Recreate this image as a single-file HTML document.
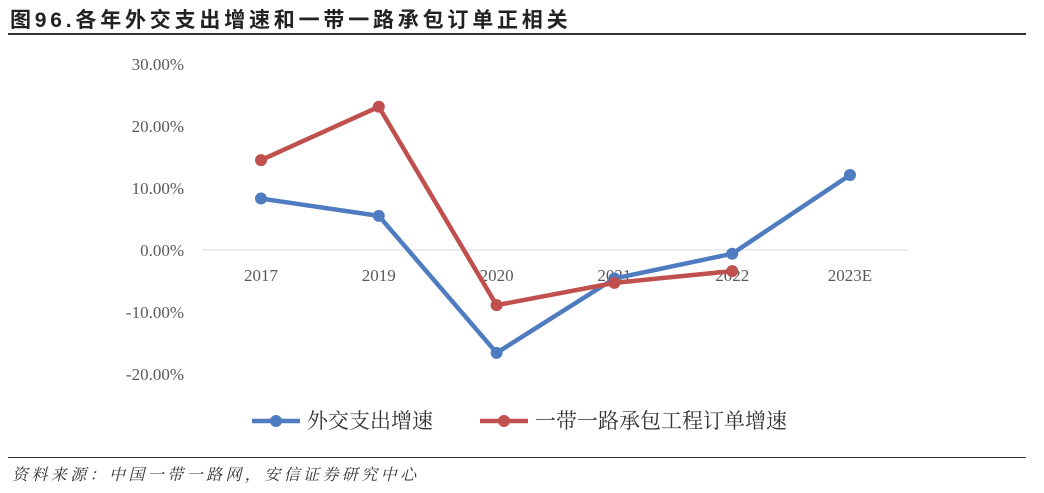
<!DOCTYPE html>
<html><head><meta charset="utf-8"><style>
body{margin:0;background:#fff;width:1044px;height:493px;overflow:hidden;font-family:"Liberation Serif","Noto Serif CJK SC",serif}
#title{position:absolute;left:10px;top:4px;font:bold 21px "Liberation Sans","Noto Sans CJK SC",sans-serif;letter-spacing:3.8px;color:#222}
#src{position:absolute;left:12px;top:462px;font:italic 16px "Liberation Serif","Noto Serif CJK SC",serif;letter-spacing:3.4px;color:#333}
.rule{position:absolute;left:8px;width:1018px;height:2px;background:#333}
svg{position:absolute;left:0;top:0}
</style></head><body>
<div id="title">图96.各年外交支出增速和一带一路承包订单正相关</div>
<div class="rule" style="top:33px"></div>
<div class="rule" style="top:457px;height:1px"></div>
<div id="src">资料来源：中国一带一路网，安信证券研究中心</div>
<svg id="c" width="1044" height="493"></svg>
<script>
const categories=["2017","2019","2020","2021","2022","2023E"];
const diplomacy=[8.3,5.5,-16.6,-4.6,-0.6,12.1];
const beltRoad=[14.5,23.1,-8.9,-5.3,-3.4];
const yTicks=[30,20,10,0,-10,-20];
const seriesNames=["外交支出增速","一带一路承包工程订单增速"];
const colors=["#4F7CC0","#C0504D"];
const NS="http://www.w3.org/2000/svg";
const svg=document.getElementById('c');
const x=i=>261+i*117.8;
const y=v=>250-v*6.2;
function mk(t,a){const e=document.createElementNS(NS,t);for(const k in a)e.setAttribute(k,a[k]);svg.appendChild(e);return e;}
let ax=mk('line',{x1:202,x2:908,y1:y(0),y2:y(0),stroke:'#d9d9d9','stroke-width':1});


yTicks.forEach(v=>{const t=mk('text',{x:184,y:y(v)+6,'text-anchor':'end','font-size':17,fill:'#595959'});t.textContent=v.toFixed(2)+'%';

});
categories.forEach((c,i)=>{const t=mk('text',{x:x(i),y:281,'text-anchor':'middle','font-size':17,fill:'#595959'});t.textContent=c;

});
[diplomacy,beltRoad].forEach((s,k)=>{
const p=mk('polyline',{points:s.map((v,i)=>x(i)+','+y(v)).join(' '),fill:'none',stroke:colors[k],'stroke-width':4.5,'stroke-linejoin':'round'});


s.forEach((v,i)=>{const m=mk('circle',{cx:x(i),cy:y(v),r:6,fill:colors[k]});

});
});
[[252,307],[480,535]].forEach((p,k)=>{
const l=mk('line',{x1:p[0],x2:p[0]+48,y1:421,y2:421,stroke:colors[k],'stroke-width':4.5});


const m=mk('circle',{cx:p[0]+24,cy:421,r:6,fill:colors[k]});


const t=mk('text',{x:p[1],y:428,'font-size':21,fill:'#333'});t.textContent=seriesNames[k];


});
</script>
</body></html>
